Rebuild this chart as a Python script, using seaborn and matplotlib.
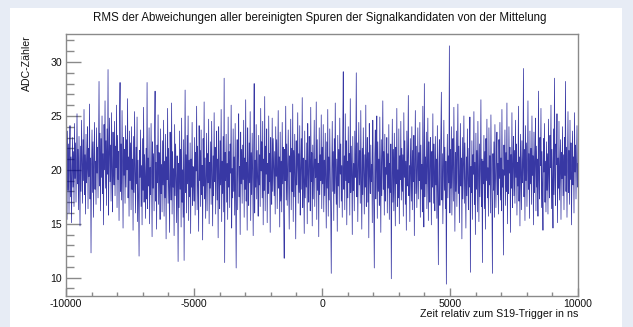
import numpy as np
import pandas as pd
import matplotlib
matplotlib.use("Agg")
import matplotlib.pyplot as plt
from matplotlib.patches import Rectangle
from matplotlib.ticker import MultipleLocator
import seaborn as sns

# RMS of the cleaned signal-candidate traces around their average, per time sample
adc = [
    17.2, 21.8, 15.4, 23.6, 18.1, 22.4, 16.0, 20.9, 24.1, 17.5, 21.2, 15.1, 19.8, 23.0, 18.4, 21.7,
    16.6, 24.3, 19.2, 22.5, 17.0, 20.3, 25.2, 18.7, 21.9, 16.3, 23.1, 19.5, 14.8, 22.2, 18.0, 24.6,
    20.7, 16.9, 22.8, 19.0, 25.6, 17.7, 21.4, 15.9, 23.3, 18.8, 20.1, 24.0, 16.4, 22.0, 19.4, 26.1,
    17.3, 21.1, 12.3, 20.5, 23.7, 17.9, 22.6, 15.6, 21.0, 24.4, 18.2, 20.8, 16.8, 23.9, 19.7, 22.1,
    17.4, 21.6, 28.2, 18.5, 23.4, 16.2, 22.9, 19.3, 25.0, 17.8, 21.5, 14.9, 24.2, 20.0, 26.4, 18.3,
    22.7, 16.7, 23.8, 19.6, 29.3, 15.8, 21.3, 24.8, 18.9, 22.3, 17.1, 25.3, 19.9, 16.1, 23.5, 20.4,
    18.6, 24.5, 17.6, 22.2, 20.2, 26.0, 16.5, 23.2, 19.1, 21.7, 15.3, 24.7, 28.1, 18.0, 22.4, 17.2,
    25.5, 20.6, 14.6, 23.0, 19.5, 21.9, 16.9, 24.1, 18.4, 22.8, 20.0, 26.6, 17.4, 21.2, 15.7, 23.6,
    19.0, 22.5, 16.3, 24.0, 18.2, 21.0, 14.4, 23.1, 17.9, 25.4, 19.8, 16.0, 22.1, 18.7, 24.9, 15.2,
    20.9, 17.5, 12.0, 21.8, 19.3, 23.7, 16.6, 20.4, 14.9, 22.9, 18.1, 25.8, 17.0, 21.4, 19.6, 15.5,
    22.0, 17.3, 28.1, 16.4, 21.1, 18.5, 23.9, 15.0, 20.2, 17.7, 24.3, 19.0, 13.8, 22.6, 18.3, 21.5,
    16.2, 23.4, 27.3, 17.1, 20.7, 14.5, 22.3, 18.8, 25.1, 16.8, 21.6, 19.4, 15.4, 23.8, 17.8, 20.5,
    16.1, 22.7, 18.6, 24.6, 15.7, 20.8, 17.4, 23.3, 13.6, 21.2, 19.1, 25.7, 16.9, 22.0, 18.0, 14.2,
    23.5, 19.7, 17.2, 26.2, 15.9, 21.7, 18.4, 20.1, 13.9, 24.2, 17.6, 22.4, 19.2, 15.1, 21.3, 18.9,
    11.5, 20.6, 16.5, 23.6, 18.2, 21.9, 14.7, 24.8, 17.0, 20.0, 15.6, 22.8, 11.6, 19.5, 27.4, 17.9,
    21.4, 16.0, 23.2, 18.7, 25.0, 15.3, 20.9, 17.5, 22.5, 14.1, 21.0, 18.4, 24.4, 16.7, 20.3, 19.3,
    17.1, 23.0, 15.8, 21.6, 19.9, 25.9, 16.3, 22.2, 18.1, 14.3, 24.1, 19.0, 21.8, 16.6, 23.7, 17.7,
    20.4, 13.5, 22.9, 18.5, 26.3, 17.3, 21.1, 15.5, 19.6, 23.4, 16.2, 21.5, 18.8, 24.7, 15.0, 20.7,
    18.3, 22.6, 16.8, 24.5, 19.2, 14.8, 21.3, 17.6, 25.3, 18.9, 22.1, 15.9, 20.5, 23.6, 17.2, 21.0,
    13.7, 24.0, 19.4, 16.4, 22.7, 18.6, 25.6, 15.2, 20.8, 17.8, 23.1, 16.1, 28.5, 11.4, 21.6, 19.0,
    23.3, 17.0, 20.6, 15.4, 24.9, 18.4, 21.7, 16.5, 22.4, 19.7, 26.0, 14.6, 20.1, 17.4, 23.8, 18.0,
    21.2, 15.8, 24.3, 17.9, 10.9, 19.8, 22.8, 16.3, 21.4, 25.2, 17.5, 20.3, 14.0, 23.5, 18.7, 21.9,
    16.9, 22.3, 19.1, 24.6, 15.6, 21.1, 18.2, 26.5, 17.1, 20.7, 14.4, 23.9, 19.5, 16.7, 22.5, 18.8,
    25.4, 15.3, 21.6, 17.7, 23.4, 20.0, 13.9, 22.0, 28.0, 16.0, 20.9, 18.4, 24.2, 17.3, 21.8, 19.3,
    15.7, 23.2, 18.6, 21.4, 16.6, 25.7, 19.9, 22.6, 17.4, 24.5, 14.9, 21.0, 18.1, 26.8, 16.2, 22.2,
    19.6, 23.8, 15.1, 20.6, 17.8, 25.0, 18.9, 21.5, 14.2, 23.0, 19.2, 16.8, 24.8, 18.0, 22.9, 20.2,
    17.6, 21.7, 15.9, 24.0, 19.4, 22.8, 16.4, 20.3, 25.5, 18.3, 21.2, 14.7, 23.5, 17.1, 20.8, 16.1,
    24.4, 18.7, 22.1, 15.5, 11.8, 21.9, 19.0, 25.9, 17.2, 22.4, 16.7, 20.5, 23.7, 18.5, 14.5, 21.3,
    19.8, 24.7, 16.3, 22.0, 18.0, 26.1, 15.2, 21.8, 17.5, 23.3, 19.5, 13.6, 22.7, 18.6, 20.4, 25.3,
    16.9, 21.5, 17.9, 24.1, 15.8, 20.0, 22.9, 18.2, 26.7, 16.5, 21.1, 19.1, 14.1, 23.6, 17.4, 20.9,
    18.4, 22.5, 15.0, 24.3, 19.7, 17.0, 23.1, 20.7, 16.2, 25.8, 18.9, 21.6, 14.8, 22.3, 17.3, 20.2,
    24.6, 16.6, 21.0, 19.3, 26.3, 15.4, 22.8, 18.1, 20.6, 13.8, 23.9, 17.7, 21.4, 19.0, 25.1, 16.4,
    22.1, 18.7, 24.2, 16.1, 20.9, 17.6, 23.4, 19.2, 14.6, 22.6, 18.3, 25.6, 15.7, 21.2, 17.2, 23.8,
    19.9, 16.0, 10.4, 20.1, 24.5, 18.0, 21.7, 15.3, 22.9, 17.8, 26.2, 19.4, 16.8, 21.0, 14.3, 23.2,
    18.5, 21.9, 16.5, 24.8, 19.6, 22.4, 17.1, 20.4, 15.6, 23.5, 29.1, 18.2, 21.3, 16.3, 25.2, 19.0,
    22.7, 14.9, 20.8, 17.4, 24.0, 18.8, 21.5, 15.8, 26.6, 17.9, 22.2, 19.7, 14.0, 23.1, 18.1, 20.6,
    16.2, 23.6, 19.3, 21.1, 29.0, 17.5, 22.5, 15.2, 20.3, 24.4, 18.6, 21.8, 16.9, 25.5, 19.1, 14.5,
    22.0, 17.7, 23.9, 20.0, 15.9, 21.4, 18.4, 26.0, 16.6, 20.7, 23.0, 17.0, 21.6, 13.7, 24.3, 19.5,
    17.8, 22.3, 18.9, 20.5, 15.1, 24.6, 19.8, 16.4, 10.9, 21.2, 23.7, 17.3, 20.1, 25.0, 15.5, 22.6,
    18.0, 21.0, 16.7, 24.9, 19.2, 14.2, 22.8, 17.6, 20.9, 26.4, 18.2, 21.7, 15.8, 23.3, 17.1, 20.2,
    19.6, 23.0, 16.0, 21.5, 18.3, 24.2, 15.4, 20.6, 17.9, 22.4, 9.9, 19.0, 24.7, 17.0, 21.9, 16.2,
    23.4, 19.4, 14.8, 22.1, 18.7, 25.7, 16.6, 20.0, 17.4, 23.8, 15.0, 21.3, 19.1, 24.5, 17.2, 22.0,
    18.0, 21.4, 15.7, 25.3, 19.3, 22.7, 16.8, 20.8, 14.4, 23.6, 18.5, 21.1, 26.9, 17.6, 20.4, 15.2,
    22.9, 19.7, 17.1, 24.0, 16.3, 21.8, 18.9, 23.2, 13.9, 20.7, 25.5, 17.8, 22.2, 16.5, 19.9, 23.9,
    17.3, 21.6, 19.0, 24.4, 15.6, 22.3, 18.2, 20.5, 16.1, 25.9, 19.5, 14.7, 28.0, 17.5, 21.2, 18.7,
    23.5, 16.4, 20.2, 24.8, 15.3, 22.6, 19.2, 17.0, 23.0, 20.9, 14.9, 21.7, 18.4, 25.2, 16.9, 22.4,
    19.8, 16.2, 23.1, 18.6, 21.0, 15.5, 24.1, 17.7, 11.2, 20.6, 22.8, 16.7, 19.3, 23.7, 27.2, 17.2,
    21.5, 15.0, 20.0, 24.6, 18.1, 22.1, 16.4, 20.8, 9.4, 19.6, 23.3, 17.4, 21.3, 18.8, 31.5, 16.0,
    21.9, 18.3, 24.0, 15.8, 20.4, 22.9, 17.1, 25.8, 19.4, 14.3, 21.6, 18.0, 23.6, 16.6, 20.9, 26.1,
    17.8, 22.2, 15.1, 19.7, 24.3, 18.5, 21.1, 13.6, 23.0, 17.3, 20.5, 25.0, 16.9, 22.5, 19.0, 14.6,
    21.2, 17.6, 23.8, 19.1, 16.3, 22.0, 18.4, 24.9, 10.5, 20.3, 17.9, 22.7, 15.4, 21.4, 19.6, 25.4,
    16.8, 20.7, 14.0, 23.4, 18.2, 21.8, 16.1, 24.5, 19.3, 15.2, 22.4, 17.5, 20.1, 26.5, 16.6, 21.0,
    11.4, 20.8, 18.7, 23.2, 16.4, 21.7, 14.5, 22.9, 19.0, 24.7, 17.4, 20.2, 15.7, 23.9, 18.6, 21.3,
    16.0, 25.1, 19.8, 17.0, 10.4, 21.5, 18.1, 22.6, 15.6, 24.2, 19.4, 16.5, 21.0, 23.5, 17.7, 20.6,
    15.9, 22.8, 19.2, 24.4, 17.2, 21.1, 16.2, 25.6, 18.4, 20.0, 12.1, 22.3, 19.5, 23.7, 16.7, 21.6,
    18.0, 26.2, 15.0, 20.9, 17.8, 24.0, 19.7, 22.1, 14.2, 21.4, 18.3, 25.3, 16.5, 20.4, 23.1, 17.6,
    21.8, 16.9, 24.6, 19.3, 22.4, 15.8, 20.7, 18.5, 25.9, 17.1, 21.2, 14.8, 23.3, 19.9, 16.3, 22.7,
    18.8, 20.3, 29.4, 17.5, 21.9, 15.3, 24.1, 19.0, 22.5, 16.6, 20.1, 26.4, 18.2, 21.5, 15.5, 23.6,
    18.7, 22.0, 16.8, 25.0, 19.5, 21.3, 14.9, 23.5, 17.9, 20.6, 24.8, 16.2, 22.2, 18.4, 21.0, 15.7,
    27.3, 19.1, 17.3, 23.0, 20.4, 25.7, 16.5, 21.7, 18.6, 14.4, 22.9, 19.8, 24.3, 17.0, 20.8, 16.1,
    22.6, 18.1, 21.5, 15.9, 24.7, 19.6, 17.4, 23.2, 20.2, 26.0, 16.4, 21.9, 18.9, 14.6, 23.8, 17.7,
    28.5, 19.3, 16.7, 22.4, 20.5, 25.2, 15.1, 21.1, 18.3, 24.5, 17.2, 20.0, 22.8, 15.4, 21.6, 19.2,
    24.0, 17.6, 21.4, 16.3, 23.0, 19.5, 28.2, 18.0, 22.1, 15.6, 20.7, 25.4, 17.9, 21.8, 16.8, 24.6,
    19.1, 22.5, 14.9, 20.3, 23.6, 18.6, 21.2, 16.0, 25.3, 19.8, 22.3, 17.3, 20.9, 24.1, 18.4, 20.6,
]

t_start, t_stop = -10000, 10000
x_ticks = [-10000, -5000, 0, 5000, 10000]
y_ticks = [10, 15, 20, 25, 30]

title = "RMS der Abweichungen aller bereinigten Spuren der Signalkandidaten von der Mittelung"
x_label = "Zeit relativ zum S19-Trigger in ns"
y_label = "ADC-Zähler"

df = pd.DataFrame({
    "t": np.linspace(t_start, t_stop, len(adc)),
    "adc": adc,
})

sns.set_style("ticks")
plt.rcParams["font.family"] = ["Liberation Sans", "DejaVu Sans"]

W, H = 633, 327
fig = plt.figure(figsize=(W / 100, H / 100), dpi=100)
fig.patch.set_facecolor("#e7ecf5")
# white canvas panel behind the axes
fig.patches.append(Rectangle((10 / W, 0), 612 / W, 1 - 8 / H,
                             transform=fig.transFigure, facecolor="white",
                             edgecolor="none", zorder=-5))

ax = fig.add_axes([66 / W, 1 - 296 / H, 512 / W, 262 / H])
ax.set_zorder(2)
ax.set_facecolor("white")

sns.lineplot(data=df, x="t", y="adc", ax=ax, estimator=None,
             color="#00008b", linewidth=0.55, alpha=0.78)

ax.set_xlim(t_start, t_stop)
ax.set_ylim(8.3, 32.6)
ax.set_xticks(x_ticks)
ax.set_xticklabels([str(v) for v in x_ticks])
ax.set_yticks(y_ticks)
ax.set_yticklabels([str(v) for v in y_ticks])
ax.xaxis.set_minor_locator(MultipleLocator(1000))
ax.yaxis.set_minor_locator(MultipleLocator(1))
ax.set_xlabel("")
ax.set_ylabel("")

axis_grey = "#8a8a8a"
for s in ax.spines.values():
    s.set_color(axis_grey)
    s.set_linewidth(1.0)

ax.tick_params(axis="x", which="major", direction="in", length=5.7, width=1,
               color=axis_grey, labelsize=7.6, pad=2, labelcolor="#111111")
ax.tick_params(axis="x", which="minor", direction="in", length=2.9, width=1,
               color=axis_grey)
ax.tick_params(axis="y", which="major", direction="in", length=11, width=1,
               color=axis_grey, labelsize=7.6, pad=3, labelcolor="#111111")
ax.tick_params(axis="y", which="minor", direction="in", length=5.4, width=1,
               color=axis_grey)

fig.text(320 / W, 1 - 18 / H, title, ha="center", va="center",
         fontsize=8.3, color="#111111")
fig.text(578 / W, 1 - 314 / H, x_label, ha="right", va="center",
         fontsize=7.65, color="#111111")
fig.text(27 / W, 1 - 35 / H, y_label, ha="center", va="top", rotation=90,
         fontsize=7.6, color="#111111")

fig.savefig("out.png", dpi=100, facecolor=fig.get_facecolor())
